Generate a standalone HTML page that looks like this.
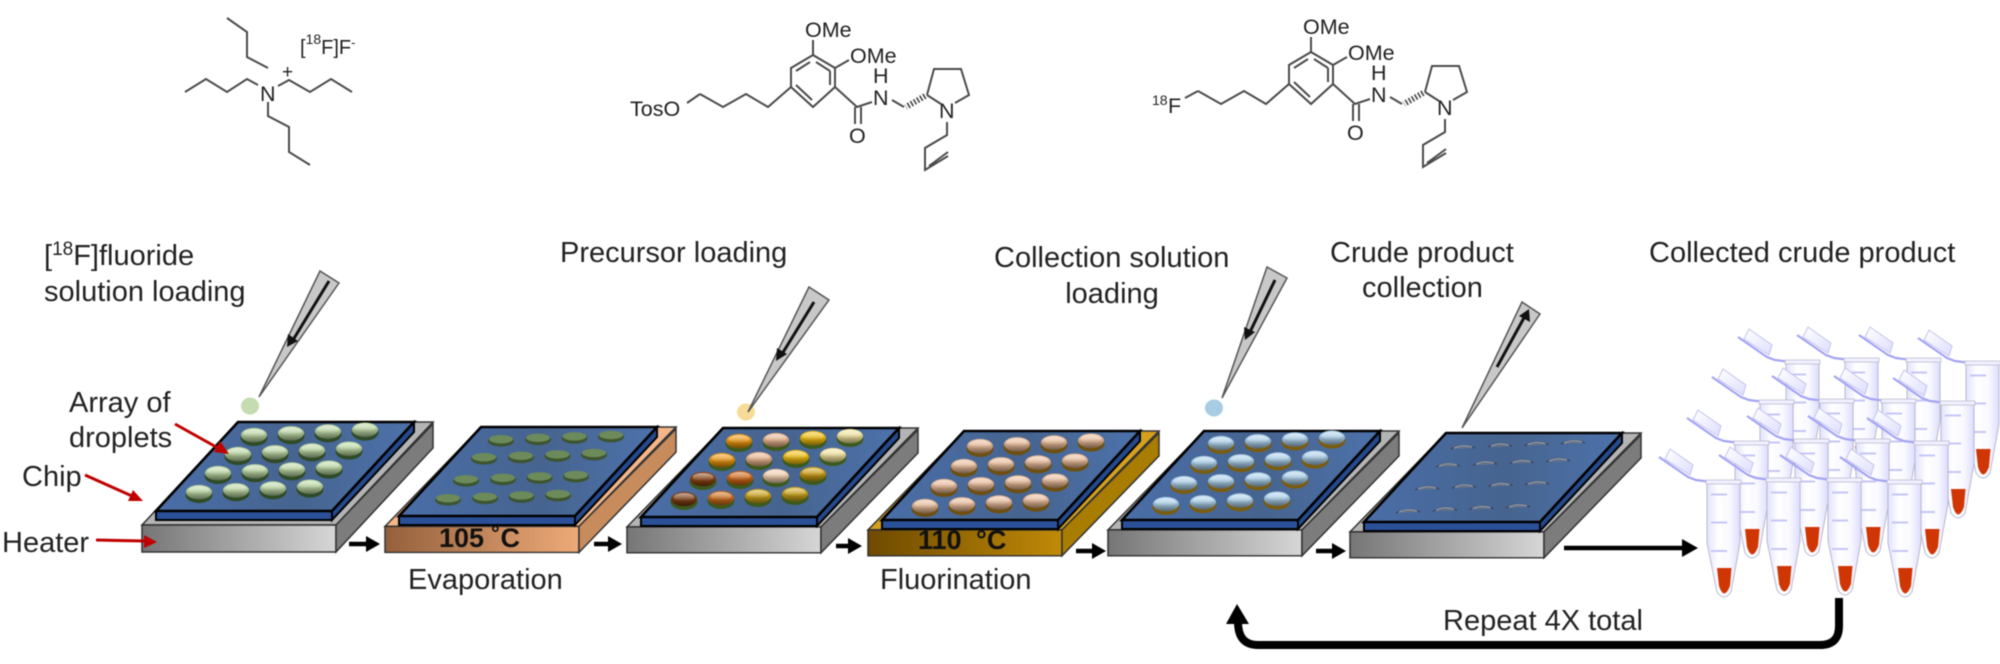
<!DOCTYPE html>
<html><head><meta charset="utf-8">
<style>
html,body{margin:0;padding:0;background:#fff;width:2000px;height:664px;overflow:hidden}
svg{display:block;filter:blur(.55px)}
text{font-family:"Liberation Sans",sans-serif;fill:#222}
.l{font-size:29px}
.c{font-size:21.5px}
.b{stroke:#4a4a4a;stroke-width:2;fill:none}
</style></head><body>
<svg width="2000" height="664" viewBox="0 0 2000 664" xmlns="http://www.w3.org/2000/svg">
<defs>
<linearGradient id="hl" x1="0" y1="0" x2="0" y2="1"><stop offset="0" stop-color="#fff" stop-opacity=".6"/><stop offset="1" stop-color="#fff" stop-opacity="0"/></linearGradient>
<linearGradient id="sh" x1="0" y1="0" x2="0" y2="1"><stop offset=".35" stop-color="#000" stop-opacity="0"/><stop offset="1" stop-color="#000" stop-opacity=".5"/></linearGradient>
<linearGradient id="blue" x1="0" y1="0" x2="1" y2="0"><stop offset="0" stop-color="#4a6ea8"/><stop offset=".55" stop-color="#46648f"/><stop offset="1" stop-color="#4d72ab"/></linearGradient>
<linearGradient id="gf" x1="0" y1="0" x2="1" y2="0"><stop offset="0" stop-color="#767676"/><stop offset="1" stop-color="#d6d6d6"/></linearGradient>
<linearGradient id="of" x1="0" y1="0" x2="1" y2="0"><stop offset="0" stop-color="#94603c"/><stop offset="1" stop-color="#eeaa78"/></linearGradient>
<linearGradient id="yf" x1="0" y1="0" x2="1" y2="0"><stop offset="0" stop-color="#6e4a00"/><stop offset="1" stop-color="#c08a08"/></linearGradient>
<linearGradient id="tube" x1="0" y1="0" x2="1" y2="0"><stop offset="0" stop-color="#e2e2ff"/><stop offset=".35" stop-color="#fff"/><stop offset=".7" stop-color="#f8f8ff"/><stop offset="1" stop-color="#dcdcff"/></linearGradient>
<linearGradient id="capg" x1="0" y1="0" x2="1" y2="1"><stop offset="0" stop-color="#fff"/><stop offset="1" stop-color="#dedeff"/></linearGradient>

<g id="dd"><ellipse cy="1.8" rx="13.5" ry="8.2" style="fill:var(--b)"/><ellipse cy="-.9" rx="13" ry="7.2"/><ellipse cy="-.9" rx="13" ry="7.2" fill="url(#sh)"/><ellipse cy="-2.8" rx="10.5" ry="4.2" fill="url(#hl)"/></g>
<g id="df"><ellipse cy="1" rx="13" ry="5.6" fill="#3c5430"/><ellipse cy="-.8" rx="12" ry="4.2" fill="#6d8a5a"/></g>
<g id="ds"><path d="M-12 2 Q0 -4 12 1" fill="#66738a" stroke="#3a4660" stroke-width="1.4"/><path d="M-9 1 Q0 -3 9 0" fill="none" stroke="#a8a8a8" stroke-width="1"/></g>
<g id="r"><use href="#dd"/><use href="#dd" x="37" y="-1.8"/><use href="#dd" x="74" y="-3.6"/><use href="#dd" x="111" y="-5.4"/></g>
<g id="rf"><use href="#df"/><use href="#df" x="37" y="-1.4"/><use href="#df" x="73.5" y="-2.8"/><use href="#df" x="110" y="-4.2"/></g>
<g id="rs"><use href="#ds"/><use href="#ds" x="37" y="-1.8"/><use href="#ds" x="73.5" y="-3.4"/><use href="#ds" x="110" y="-5"/></g>

<polygon id="hf" points="-96,103 98,103 98,130 -96,130" stroke="#333" stroke-width="1.5"/>
<polygon id="hs" points="98,103 195,2 195,26 98,130" stroke="#333" stroke-width="1.5"/>
<polygon id="ht" points="0,0 195,0 98,103 -96,103" stroke="#333" stroke-width="1.5"/>
<g id="chip">
<polygon points="-82,89 94,89 94,98 -82,98" fill="#2a5098" stroke="#000" stroke-width="2"/>
<polygon points="94,89 176,0 176,10 94,98" fill="#24498c" stroke="#000" stroke-width="2"/>
<polygon points="-82,89 0,0 176,0 94,89" fill="url(#blue)" stroke="#000" stroke-width="2.6"/>
</g>

<g id="t">
<polygon points="-37,-31 -14,-15 -17,-5 -42,-21" fill="url(#capg)" stroke="#c4c4ec" stroke-width="1"/>
<path d="M-48,-23 L-19,-3 L-11,0 L1,1.5" fill="none" stroke="#a4a4f4" stroke-width="2.2"/>
<path d="M0 2 L0 63 L10 112 Q17 122 24 112 L33 63 L33 2 Z" fill="url(#tube)" stroke="#b8b8cc" stroke-width="1"/>
<rect x="-1" y="0" width="35" height="4" fill="#f0f0ff" stroke="#bcbccc" stroke-width=".8"/>
<path d="M4 14.5H20M4 42.5H20M4 71H20" stroke="#c6c6f6" stroke-width="2"/>
<path d="M10 88 H24.5 L23 106 Q17 121 12 106 Z" fill="#cf3604"/>
</g>
</defs>

<!-- Chemical structures -->
<path class="b" d="M268 68 L247 57 L247 32 L227 18 M258 85 L247 79 L227 92 L206 79 L185 92 M278 86 L289 80 L310 92 L331 79 L352 92 M268 102 L268 116 L289 127 L289 152 L310 165"/>
<text class="c" x="260" y="101">N</text>
<text x="282" y="78" style="font-size:19px">+</text>
<text x="300" y="54" style="font-size:20px">[<tspan dy="-10" style="font-size:14px">18</tspan><tspan dy="10">F]F</tspan><tspan dy="-7" style="font-size:13px">-</tspan></text>

<g>
<path class="b" d="M813 40 L813 55 L835 68 L835 87 L813 107 L791 87 L791 68 L813 55 M835 68 L849 60 M835 87 L857 107 L872 102 M855 107 L855 124 M861 107 L861 124 M816 62 L830 71 M830 71 L830 85 M796 71 L810 62 M796 85 L812 100 M791 87 L768 107 L746 94 L723 107 L700 94"/>
<path class="b" d="M892 100 L904 107 M927 95 L934 69 L961 69 L969 95 L955 103 M927 95 L941 104 M947 122 L947 135 L925 148 L925 170 L948 156 M929 166 L948 152"/>
<path d="M925 96 L906 107" stroke="#444" stroke-width="6" stroke-dasharray="1.6 2" fill="none"/>
<text class="c" x="805" y="37">OMe</text>
<text class="c" x="850" y="63">OMe</text>
<text class="c" x="849" y="143">O</text>
<text class="c" x="873" y="83">H</text>
<text class="c" x="873" y="105">N</text>
<text class="c" x="939" y="118">N</text>
</g>
<path class="b" d="M687 103 L700 94"/>
<text class="c" x="630" y="116">TosO</text>

<g transform="translate(498,-3)">
<path class="b" d="M813 40 L813 55 L835 68 L835 87 L813 107 L791 87 L791 68 L813 55 M835 68 L849 60 M835 87 L857 107 L872 102 M855 107 L855 124 M861 107 L861 124 M816 62 L830 71 M830 71 L830 85 M796 71 L810 62 M796 85 L812 100 M791 87 L768 107 L746 94 L723 107 L700 94"/>
<path class="b" d="M892 100 L904 107 M927 95 L934 69 L961 69 L969 95 L955 103 M927 95 L941 104 M947 122 L947 135 L925 148 L925 170 L948 156 M929 166 L948 152"/>
<path d="M925 96 L906 107" stroke="#444" stroke-width="6" stroke-dasharray="1.6 2" fill="none"/>
<text class="c" x="805" y="37">OMe</text>
<text class="c" x="850" y="63">OMe</text>
<text class="c" x="849" y="143">O</text>
<text class="c" x="873" y="83">H</text>
<text class="c" x="873" y="105">N</text>
<text class="c" x="939" y="118">N</text>
</g>
<path class="b" d="M1185 98 L1198 91"/>
<text x="1152" y="105" style="font-size:14px">18</text>
<text class="c" x="1168" y="113">F</text>

<!-- Chips -->
<g transform="translate(238,422)"><use href="#ht" fill="#b4b4b4"/><use href="#hf" fill="url(#gf)"/><use href="#hs" fill="#7c7c7c"/><use href="#chip"/></g>
<g transform="translate(481,427)"><g transform="scale(1,.965)"><use href="#ht" fill="#f4b688"/><use href="#hf" fill="url(#of)"/><use href="#hs" fill="#c88c5c"/></g><use href="#chip"/></g>
<g transform="translate(723,428)"><g transform="scale(1,.96)"><use href="#ht" fill="#b4b4b4"/><use href="#hf" fill="url(#gf)"/><use href="#hs" fill="#7c7c7c"/></g><use href="#chip"/></g>
<g transform="translate(964,431)"><g transform="scale(1,.96)"><use href="#ht" fill="#d4a01e"/><use href="#hf" fill="url(#yf)"/><use href="#hs" fill="#a97c02"/></g><use href="#chip"/></g>
<g transform="translate(1204,431)"><g transform="scale(1,.96)"><use href="#ht" fill="#b4b4b4"/><use href="#hf" fill="url(#gf)"/><use href="#hs" fill="#7c7c7c"/></g><use href="#chip"/></g>
<g transform="translate(1446,433)"><g transform="scale(1,.96)"><use href="#ht" fill="#b4b4b4"/><use href="#hf" fill="url(#gf)"/><use href="#hs" fill="#7c7c7c"/></g><use href="#chip"/></g>

<!-- Droplets -->
<g style="--b:#2e4a26;fill:#b8d4a0">
<use href="#r" x="254" y="436"/><use href="#r" x="238" y="455"/><use href="#r" x="218" y="474"/><use href="#r" x="199" y="493"/>
</g>
<use href="#rf" x="501" y="440"/><use href="#rf" x="484" y="458"/><use href="#rf" x="466" y="480"/><use href="#rf" x="448" y="499"/>
<g style="--b:#3c5a1c">
<use href="#dd" x="739" y="442" fill="#e8920c"/><use href="#dd" x="776" y="441" fill="#e4ae88"/><use href="#dd" x="813" y="439" fill="#ecba0e"/><use href="#dd" x="850" y="437" fill="#eee09a"/>
<use href="#dd" x="722" y="461" fill="#e8920c"/><use href="#dd" x="759" y="460" fill="#e4ae88"/><use href="#dd" x="796" y="458" fill="#ecba0e"/><use href="#dd" x="833" y="456" fill="#eee09a"/>
<use href="#dd" x="703" y="480" fill="#864010"/><use href="#dd" x="740" y="479" fill="#c96414"/><use href="#dd" x="776" y="477" fill="#eccaa8"/><use href="#dd" x="813" y="475" fill="#c89a10"/>
<use href="#dd" x="684" y="500" fill="#7a3a10"/><use href="#dd" x="721" y="499" fill="#c86a18"/><use href="#dd" x="758" y="497" fill="#c8a018"/><use href="#dd" x="795" y="495" fill="#c8a018"/>
</g>
<g style="--b:#6e4f10;fill:#e6b896">
<use href="#r" x="980" y="447"/><use href="#r" x="964" y="467"/><use href="#r" x="944" y="487"/><use href="#r" x="925" y="507"/>
</g>
<g style="--b:#7a5c10;fill:#a8cce6">
<use href="#r" x="1221" y="444"/><use href="#r" x="1204" y="464"/><use href="#r" x="1184" y="484"/><use href="#r" x="1166" y="505"/>
</g>
<use href="#rs" x="1463" y="447"/><use href="#rs" x="1448" y="465"/><use href="#rs" x="1427" y="488"/><use href="#rs" x="1408" y="511"/>

<!-- Tips -->
<ellipse cx="250" cy="406" rx="9" ry="8.5" fill="#c4dcb0"/>
<polygon points="320,271 339,283 259,397" fill="#c8c8c8" stroke="#555" stroke-width="1.5"/>
<path d="M329 281 L293 340" stroke="#111" stroke-width="3" fill="none"/><polygon points="287,347 288,334 298,341" fill="#111"/>
<ellipse cx="746" cy="412" rx="9" ry="8.5" fill="#f6dc96"/>
<polygon points="809,287 829,300 748,412" fill="#c8c8c8" stroke="#555" stroke-width="1.5"/>
<path d="M814 302 L782 354" stroke="#111" stroke-width="3" fill="none"/><polygon points="776,361 777,348 787,354" fill="#111"/>
<ellipse cx="1214" cy="408" rx="9" ry="8.5" fill="#a8cce4"/>
<polygon points="1267,267 1287,278 1222,398" fill="#c8c8c8" stroke="#555" stroke-width="1.5"/>
<path d="M1275 280 L1250 332" stroke="#111" stroke-width="3" fill="none"/><polygon points="1245,340 1244,327 1255,332" fill="#111"/>
<polygon points="1522,302 1540,314 1462,428" fill="#c8c8c8" stroke="#555" stroke-width="1.5"/>
<path d="M1497 367 L1525 316" stroke="#111" stroke-width="3" fill="none"/><polygon points="1529,309 1530,322 1519,316" fill="#111"/>

<!-- Tubes -->
<use href="#t" x="1786" y="360"/><use href="#t" x="1845" y="358"/><use href="#t" x="1907" y="358"/><use href="#t" x="1966" y="361"/>
<use href="#t" x="1760" y="400"/><use href="#t" x="1820" y="399"/><use href="#t" x="1882" y="399"/><use href="#t" x="1941" y="401"/>
<use href="#t" x="1735" y="441"/><use href="#t" x="1795" y="439"/><use href="#t" x="1856" y="439"/><use href="#t" x="1915" y="441"/>
<use href="#t" x="1707" y="480"/><use href="#t" x="1767" y="478"/><use href="#t" x="1828" y="478"/><use href="#t" x="1888" y="480"/>

<!-- Red arrows -->
<path d="M175 424 L218 448" stroke="#c00000" stroke-width="3" fill="none"/><polygon points="229,454 214,452 220,441" fill="#c00000"/>
<path d="M85 475 L132 496" stroke="#c00000" stroke-width="3" fill="none"/><polygon points="143,501 128,501 133,490" fill="#c00000"/>
<path d="M96 540 L144 541" stroke="#c00000" stroke-width="3" fill="none"/><polygon points="157,542 144,548 144,535" fill="#c00000"/>

<!-- Black arrows -->
<path d="M349 544H368M594 544H610M836 546H850M1076 551H1094M1316 551H1334M1564 548H1684" stroke="#000" stroke-width="4.5" fill="none"/>
<polygon points="380,544 366,536 366,552" fill="#000"/>
<polygon points="622,544 608,536 608,552" fill="#000"/>
<polygon points="862,546 848,538 848,554" fill="#000"/>
<polygon points="1106,551 1092,543 1092,559" fill="#000"/>
<polygon points="1346,551 1332,543 1332,559" fill="#000"/>
<polygon points="1698,548 1682,539 1682,557" fill="#000"/>
<path d="M1839 598 V626 Q1839 645 1820 645 H1258 Q1238 645 1238 622" stroke="#000" stroke-width="8" fill="none"/>
<polygon points="1237,604 1226,624 1249,624" fill="#000"/>

<!-- Labels -->
<text class="l" x="44" y="265">[<tspan dy="-10" style="font-size:19px">18</tspan><tspan dy="10">F]fluoride</tspan></text>
<text class="l" x="44" y="301">solution loading</text>
<text class="l" x="560" y="262">Precursor loading</text>
<text class="l" x="994" y="267">Collection solution</text>
<text class="l" x="1112" y="303" text-anchor="middle">loading</text>
<text class="l" x="1330" y="262">Crude product</text>
<text class="l" x="1362" y="297">collection</text>
<text class="l" x="1649" y="262">Collected crude product</text>
<text class="l" x="69" y="412">Array of</text>
<text class="l" x="69" y="447">droplets</text>
<text class="l" x="22" y="486">Chip</text>
<text class="l" x="2" y="552">Heater</text>
<text class="l" x="408" y="589">Evaporation</text>
<text class="l" x="880" y="589">Fluorination</text>
<text class="l" x="1443" y="630">Repeat 4X total</text>
<text x="439" y="547" style="font-size:27px;font-weight:bold;fill:#111">105 ˚C</text>
<text x="918" y="549" style="font-size:27px;font-weight:bold;fill:#111;word-spacing:7px">110 °C</text>
</svg>
</body></html>
